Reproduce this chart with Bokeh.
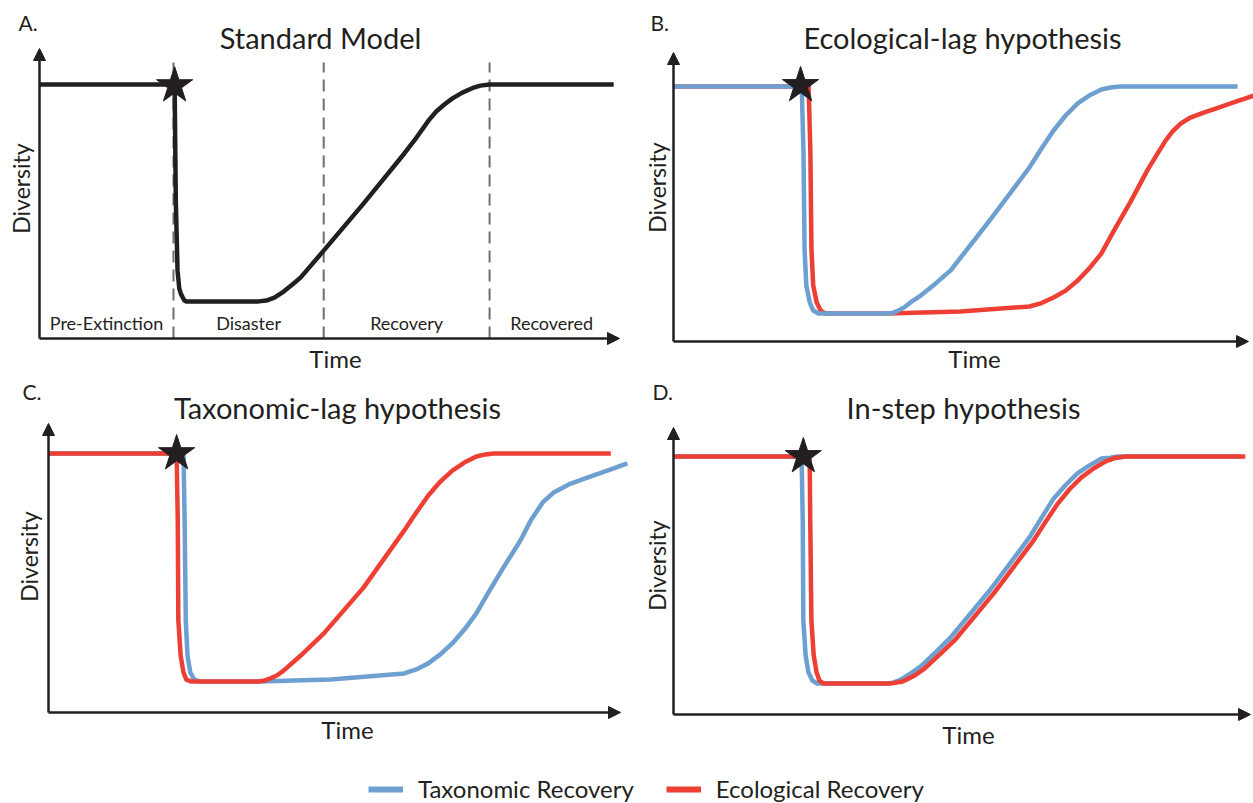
import math
from bokeh.plotting import figure
from bokeh.layouts import column, row
from bokeh.models import Range1d, Label, Arrow, NormalHead, Legend, LegendItem
from bokeh.embed import file_html
from bokeh.resources import INLINE

FONT = "Lato"
INK = "#231f20"
GREY = "#6d6e71"
BLUE = "#6d9fd1"
RED = "#ee3f35"

# ---------------- data: time and diversity in relative units (0-100 along each axis) -------------
# A. Standard model
a_time = [0, 23.3, 23.5, 23.8, 24.1, 24.4, 24.7, 25.0, 25.3, 37.8, 39.1, 40.5, 42.1, 43.6, 45.0, 49.0, 55.9, 62.9,
          65.0, 67.1, 68.4, 69.8, 71.2, 72.9, 74.7, 76.0, 77.6, 99.0]
a_div = [87.6, 87.6, 47.6, 23.4, 17.2, 15.3, 14.1, 13.1, 12.8, 12.8, 13.1, 14.1, 16.2, 18.6, 21.0, 30.3, 46.6, 63.8,
         69.3, 75.2, 78.3, 80.7, 82.8, 84.8, 86.4, 87.2, 87.6, 87.6]
a_star_time = [23.3]
a_star_div = [87.2]
a_phase_bounds = [23.1, 49.0, 77.6]
a_phase_top = 95.2
a_phase_labels = ["Pre-Extinction", "Disaster", "Recovery", "Recovered"]

# B. Ecological-lag hypothesis
b_tax_time = [0, 22.3, 22.6, 22.8, 23.1, 23.7, 24.3, 25.2, 37.0, 38.1, 39.1, 40.2, 41.2, 43.0, 45.6, 48.2, 55.0,
              61.9, 64.0, 66.1, 68.2, 70.3, 72.3, 74.4, 76.0, 77.6, 98.1]
b_tax_div = [88.2, 88.2, 66.1, 31.5, 19.4, 13.5, 10.7, 9.7, 9.7, 9.9, 10.7, 11.9, 13.5, 15.9, 20.1, 24.6, 41.9,
             60.2, 66.8, 73.0, 78.2, 82.4, 85.1, 87.2, 87.9, 88.2, 88.2]
b_eco_time = [0, 23.5, 23.8, 24.0, 24.3, 24.9, 25.6, 26.4, 37.0, 49.9, 61.9, 64.0, 66.1, 68.2, 70.3, 72.3, 74.4,
              76.5, 79.5, 82.4, 84.2, 85.6, 86.8, 88.2, 89.9, 92.2, 94.3, 96.9, 100.9]
b_eco_div = [88.2, 88.2, 66.1, 31.5, 19.4, 13.5, 10.7, 9.7, 9.7, 10.4, 12.1, 13.3, 15.2, 17.6, 21.1, 25.3, 30.4,
             38.0, 48.4, 59.2, 65.1, 69.6, 72.7, 75.4, 77.5, 79.2, 80.6, 82.4, 85.1]
b_star_time = [22.1]
b_star_div = [88.6]

# C. Taxonomic-lag hypothesis
c_tax_time = [0, 23.6, 23.8, 24.0, 24.3, 24.8, 25.5, 26.4, 36.7, 49.3, 62.2, 64.3, 66.4, 68.5, 70.6, 72.7, 74.8,
              76.9, 79.2, 82.5, 84.3, 86.4, 88.3, 91.3, 94.2, 97.7, 101.2]
c_tax_div = [89.6, 89.6, 66.4, 31.8, 19.7, 13.8, 11.4, 10.7, 10.7, 11.4, 13.5, 14.9, 17.0, 20.1, 23.9, 28.7, 34.3,
             41.5, 49.1, 59.5, 66.4, 72.7, 76.1, 79.2, 81.3, 83.7, 86.2]
c_eco_time = [0, 22.4, 22.6, 22.7, 23.1, 23.6, 24.1, 25.0, 36.7, 37.8, 38.8, 39.9, 41.1, 44.1, 48.1, 55.1, 62.2,
              64.3, 66.4, 68.5, 70.6, 72.7, 74.8, 76.4, 77.8, 98.3]
c_eco_div = [89.6, 89.6, 66.4, 31.8, 19.7, 13.8, 11.4, 10.7, 10.7, 11.1, 11.8, 12.8, 14.5, 19.7, 27.3, 43.3, 63.0,
             69.2, 75.1, 79.9, 83.7, 86.5, 88.6, 89.3, 89.6, 89.6]
c_star_time = [22.4]
c_star_div = [89.6]

# D. In-step hypothesis
d_tax_time = [0, 22.2, 22.4, 22.5, 22.9, 23.4, 24.1, 24.9, 36.9, 38.0, 39.0, 40.0, 41.1, 42.8, 45.4, 48.0, 54.8,
              61.7, 63.8, 65.9, 67.9, 70.0, 72.1, 74.2, 75.7, 76.9, 98.3]
d_tax_div = [89.9, 89.9, 67.6, 32.8, 20.6, 14.6, 11.8, 10.8, 10.8, 11.1, 11.8, 12.9, 14.3, 16.7, 21.6, 26.8, 43.2,
             61.7, 68.6, 75.3, 79.8, 84.0, 86.8, 89.2, 89.5, 89.9, 89.9]
d_eco_time = [0, 23.6, 23.7, 23.9, 24.3, 24.8, 25.3, 26.0, 37.6, 38.6, 39.7, 40.7, 41.8, 43.5, 46.1, 48.7, 55.5,
              62.4, 64.5, 66.6, 68.6, 70.7, 72.8, 74.9, 76.6, 78.3, 99.1]
d_eco_div = [89.9, 89.9, 67.6, 32.8, 20.6, 14.6, 11.8, 10.8, 10.8, 11.1, 11.5, 12.5, 13.6, 16.0, 20.9, 25.8, 42.2,
             60.6, 67.2, 73.5, 78.4, 82.6, 85.7, 88.2, 89.4, 89.9, 89.9]
d_star_time = [22.5]
d_star_div = [89.9]

legend_labels = ["Taxonomic Recovery", "Ecological Recovery"]
panel_letters = ["A.", "B.", "C.", "D."]
panel_titles = ["Standard Model", "Ecological-lag hypothesis", "Taxonomic-lag hypothesis", "In-step hypothesis"]
x_label = "Time"
y_label = "Diversity"


# ---------------- layout helpers ----------------
def make_panel(W, H, ox, oy, tx, ty):
    """ox, oy: local pixel of axis origin; tx: pixel of x-arrow tip; ty: pixel of y-arrow tip."""
    sx = (tx - ox) / 100.0
    sy = (oy - ty) / 100.0
    p = figure(width=W, height=H,
               x_range=Range1d(-ox / sx, (W - ox) / sx),
               y_range=Range1d(-(H - oy) / sy, oy / sy),
               x_axis_location=None, y_axis_location=None, title=None,
               toolbar_location=None, output_backend="svg", min_border=0,
               outline_line_color=None, background_fill_color="white",
               border_fill_color="white")
    p.xgrid.grid_line_color = None
    p.ygrid.grid_line_color = None

    def to_data(px, py):
        return (px - ox) / sx, (oy - py) / sy

    # axes with arrow heads
    for xe, ye in [(100, 0), (0, 100)]:
        p.add_layout(Arrow(end=NormalHead(size=12, fill_color=INK, line_color=INK, line_width=1),
                           x_start=0, y_start=0, x_end=xe, y_end=ye,
                           line_color=INK, line_width=2.5))
    return p, to_data


def add_text(p, to_data, px, py, text, size, align="center", baseline="alphabetic", angle=0.0):
    if baseline == "alphabetic":
        py = py - 0.38 * size
    x, y = to_data(px, py)
    p.add_layout(Label(x=x, y=y, text=text, text_font=FONT, text_font_size=f"{size}px",
                       text_color=INK, text_align=align, text_baseline=baseline, angle=angle))


def decorate(p, to_data, idx, letter_pos, title_pos, ylab_pos, xlab_pos):
    add_text(p, to_data, letter_pos[0], letter_pos[1], panel_letters[idx], 21, align="left")
    add_text(p, to_data, title_pos[0], title_pos[1], panel_titles[idx], 29)
    add_text(p, to_data, ylab_pos[0], ylab_pos[1], y_label, 23, baseline="middle", angle=math.pi / 2)
    add_text(p, to_data, xlab_pos[0], xlab_pos[1], x_label, 24)


def add_star(p, t, d):
    p.scatter(t, d, marker="star", size=38, fill_color=INK, line_color=INK, line_width=1)


LW = 4.5
TOP_H = 378
BOT_H = 378
LEG_H = 803 - TOP_H - BOT_H

# ---------------- Panel A ----------------
pA, fA = make_panel(630, TOP_H, 39, 338, 619, 48)
bounds = a_phase_bounds
pA.segment(x0=bounds, y0=[0] * len(bounds), x1=bounds, y1=[a_phase_top] * len(bounds),
           line_color=GREY, line_width=2, line_dash="12 7")
edges = [0] + a_phase_bounds + [a_time[-1]]
for i, lab in enumerate(a_phase_labels):
    cx = (edges[i] + edges[i + 1]) / 2.0
    _, ly = fA(0, 329 - 0.38 * 18)
    pA.add_layout(Label(x=cx, y=ly, text=lab, text_font=FONT, text_font_size="18px",
                        text_color=INK, text_align="center", text_baseline="alphabetic"))
pA.line(a_time, a_div, line_color=INK, line_width=LW, line_join="round")
add_star(pA, a_star_time, a_star_div)
decorate(pA, fA, 0, (18, 30), (320, 48), (20, 188), (335, 367))

# ---------------- Panel B ----------------
pB, fB = make_panel(623, TOP_H, 43, 341, 618, 52)
pB.line(b_eco_time, b_eco_div, line_color=RED, line_width=LW, line_join="round")
pB.line(b_tax_time, b_tax_div, line_color=BLUE, line_width=LW, line_join="round")
add_star(pB, b_star_time, b_star_div)
decorate(pB, fB, 1, (20, 30), (332, 48), (26, 187), (344, 367))

# ---------------- Panel C ----------------
pC, fC = make_panel(630, BOT_H, 48, 712 - TOP_H, 620, 423 - TOP_H)
pC.line(c_tax_time, c_tax_div, line_color=BLUE, line_width=LW, line_join="round")
pC.line(c_eco_time, c_eco_div, line_color=RED, line_width=LW, line_join="round")
add_star(pC, c_star_time, c_star_div)
decorate(pC, fC, 2, (22, 399 - TOP_H), (337, 418 - TOP_H), (28, 556 - TOP_H), (347, 738 - TOP_H))

# ---------------- Panel D ----------------
pD, fD = make_panel(623, BOT_H, 43, 714 - TOP_H, 620, 427 - TOP_H)
pD.line(d_tax_time, d_tax_div, line_color=BLUE, line_width=LW, line_join="round")
pD.line(d_eco_time, d_eco_div, line_color=RED, line_width=LW, line_join="round")
add_star(pD, d_star_time, d_star_div)
decorate(pD, fD, 3, (22, 399 - TOP_H), (333, 418 - TOP_H), (26, 565 - TOP_H), (338, 743 - TOP_H))

# ---------------- Legend strip ----------------
pL = figure(width=1253, height=LEG_H, x_range=Range1d(0, 1), y_range=Range1d(0, 1),
            x_axis_location=None, y_axis_location=None, title=None,
            toolbar_location=None, output_backend="svg", min_border=0,
            outline_line_color=None)
pL.xgrid.grid_line_color = None
pL.ygrid.grid_line_color = None
# off-screen placeholder renderers so the legend can draw its line swatches
r_tax = pL.line(x=[-3, -2], y=[-3, -2], line_color=BLUE, line_width=6)
r_eco = pL.line(x=[-3, -2], y=[-3, -2], line_color=RED, line_width=6)
leg = Legend(items=[LegendItem(label=legend_labels[0], renderers=[r_tax]),
                    LegendItem(label=legend_labels[1], renderers=[r_eco])],
             orientation="horizontal", location=(368, 0),
             glyph_width=35, glyph_height=20, label_standoff=15, spacing=32,
             padding=0, margin=0, border_line_color=None, background_fill_alpha=0,
             label_text_font=FONT, label_text_font_size="24px", label_text_color=INK)
pL.add_layout(leg)

layout = column(row(pA, pB), row(pC, pD), pL)

with open("out.html", "w") as f:
    f.write(file_html(layout, INLINE))
